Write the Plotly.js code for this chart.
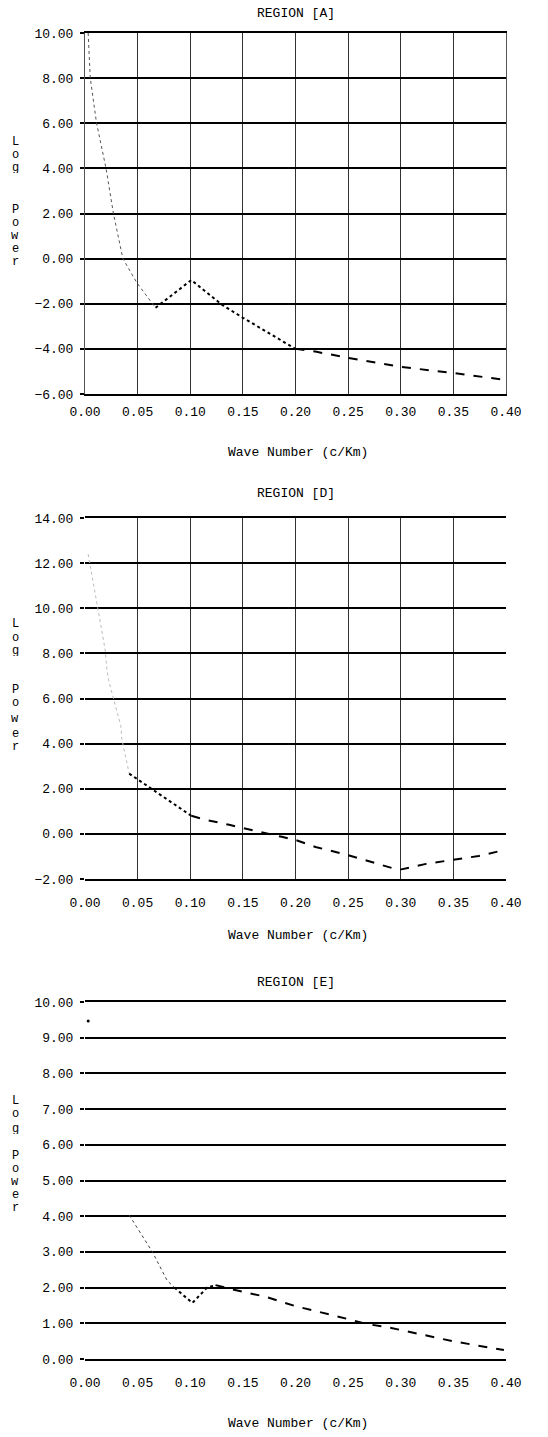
<!DOCTYPE html>
<html>
<head>
<meta charset="utf-8">
<script src="https://cdn.plot.ly/plotly-3.0.1.min.js"></script>
<style>html,body{margin:0;padding:0;background:#fff;}#chart{width:548px;height:1437px;}</style>
</head>
<body>
<div id="chart"></div>
<script>
// ---------- DATA ----------
const panelTitles = ["REGION [A]", "REGION [D]", "REGION [E]"];
const xAxisTitle = "Wave Number (c/Km)";
const yLabelLetters = ["L", "o", "g", "P", "o", "w", "e", "r"];
const xTickVals = [0.00, 0.05, 0.10, 0.15, 0.20, 0.25, 0.30, 0.35, 0.40];

// Region A
const aFaintX = [0.003, 0.005, 0.011, 0.020, 0.027, 0.036, 0.049, 0.064, 0.067];
const aFaintY = [10.0, 8.0, 6.0, 4.0, 2.0, 0.0, -1.05, -1.96, -2.18];
const aDotX = [0.067, 0.101, 0.130, 0.150, 0.200];
const aDotY = [-2.18, -0.95, -2.04, -2.62, -4.0];
const aDashX = [0.200, 0.220, 0.250, 0.300, 0.350, 0.400];
const aDashY = [-4.0, -4.13, -4.4, -4.8, -5.07, -5.38];

// Region D
const dFaintX = [0.003, 0.019, 0.021, 0.023, 0.034, 0.035, 0.042];
const dFaintY = [12.4, 8.2, 7.2, 6.7, 4.8, 4.2, 2.67];
const dDotX = [0.042, 0.063, 0.101];
const dDotY = [2.67, 2.0, 0.8];
const dDashX = [0.101, 0.115, 0.137, 0.159, 0.172, 0.187, 0.200, 0.219, 0.249, 0.277, 0.298, 0.324, 0.349, 0.374, 0.398];
const dDashY = [0.8, 0.62, 0.4, 0.18, 0.05, -0.13, -0.27, -0.58, -0.93, -1.33, -1.6, -1.33, -1.16, -0.98, -0.72];

// Region E
const eFaintX = [0.003];
const eFaintY = [9.47];
const eLightX = [0.042, 0.064, 0.078, 0.085];
const eLightY = [4.03, 3.0, 2.2, 2.0];
const eDotX = [0.085, 0.102, 0.116, 0.124];
const eDotY = [2.0, 1.57, 2.0, 2.07];
const eDashX = [0.124, 0.140, 0.172, 0.200, 0.235, 0.268, 0.291, 0.315, 0.349, 0.398];
const eDashY = [2.07, 1.95, 1.74, 1.48, 1.23, 0.98, 0.87, 0.72, 0.5, 0.25];

// ---------- LAYOUT HELPERS ----------
const W = 548, H = 1437;
const FONT = "Liberation Mono, DejaVu Sans Mono, monospace";
const py = p => 1 - p / H;   // pixel row -> paper fraction
const px = p => p / W;

const panels = [
  {top: 33,  bottom: 394,  range: [-6, 10], dtick: 2, titleY: 14,  axTitleY: 452, xStand: -2,
   letters: [142, 155, 168, 210, 223, 236, 249, 262], xgrid: true, yline: true},
  {top: 518, bottom: 879,  range: [-2, 14], dtick: 2, titleY: 493, axTitleY: 935, xStand: 4,
   letters: [623, 638, 651, 690, 703, 718, 733, 746], xgrid: true, yline: false},
  {top: 1002, bottom: 1359, range: [0, 10], dtick: 1, titleY: 982, axTitleY: 1423, xStand: 4,
   letters: [1100, 1113, 1128, 1155, 1168, 1181, 1194, 1207], xgrid: false, yline: false}
];

function seg(x, y, ax, color, width, dash, mode) {
  return {x: x, y: y, xaxis: ax[0], yaxis: ax[1], type: "scatter",
          mode: mode || "lines", line: {color: color, width: width, dash: dash},
          marker: {color: color, size: 3}, showlegend: false, hoverinfo: "skip"};
}

const traces = [
  seg(aFaintX, aFaintY, ["x", "y"], "#555", 1, "dot"),
  seg(aDotX, aDotY, ["x", "y"], "#000", 2, "dot"),
  seg(aDashX, aDashY, ["x", "y"], "#000", 2, "dash"),
  seg(dFaintX, dFaintY, ["x2", "y2"], "#bbb", 1, "dot"),
  seg(dDotX, dDotY, ["x2", "y2"], "#000", 2, "dot"),
  seg(dDashX, dDashY, ["x2", "y2"], "#000", 2, "dash"),
  seg(eFaintX, eFaintY, ["x3", "y3"], "#000", 1, "solid", "markers"),
  seg(eLightX, eLightY, ["x3", "y3"], "#444", 1, "dot"),
  seg(eDotX, eDotY, ["x3", "y3"], "#000", 2, "dot"),
  seg(eDashX, eDashY, ["x3", "y3"], "#000", 2, "dash")
];

const layout = {
  width: W, height: H, autosize: false,
  margin: {l: 0, r: 0, t: 0, b: 0, pad: 0},
  paper_bgcolor: "#fff", plot_bgcolor: "#fff",
  font: {family: FONT, size: 13, color: "#000"},
  showlegend: false,
  annotations: [],
  hovermode: false
};

panels.forEach((p, i) => {
  const sfx = i === 0 ? "" : String(i + 1);
  layout["xaxis" + sfx] = {
    domain: [px(85), px(506)], anchor: "y" + sfx, range: [0, 0.4],
    tickvals: xTickVals, tickformat: ".2f",
    showgrid: p.xgrid, gridcolor: "#333", gridwidth: 1,
    zeroline: false, showline: true, mirror: true, linecolor: "#000", linewidth: 2,
    ticks: "outside", ticklen: 6, tickcolor: "rgba(0,0,0,0)",
    ticklabelstandoff: p.xStand,
    tickfont: {family: FONT, size: 13, color: "#000"}, automargin: false, fixedrange: true
  };
  layout["yaxis" + sfx] = {
    domain: [py(p.bottom), py(p.top)], anchor: "x" + sfx, range: p.range,
    dtick: p.dtick, tick0: 0, tickformat: ".2f",
    showgrid: true, gridcolor: "#000", gridwidth: 2,
    zeroline: false, showline: p.yline, mirror: p.yline, linecolor: "#555", linewidth: 1,
    ticks: "outside", ticklen: 4, tickwidth: 2, tickcolor: "#000",
    ticklabelstandoff: 4,
    tickfont: {family: FONT, size: 13, color: "#000"}, automargin: false, fixedrange: true
  };
  layout.annotations.push({
    text: panelTitles[i], xref: "paper", yref: "paper", x: px(295.5), y: py(p.titleY),
    xanchor: "center", yanchor: "middle", showarrow: false,
    font: {family: FONT, size: 13, color: "#000"}
  });
  layout.annotations.push({
    text: xAxisTitle, xref: "paper", yref: "paper", x: px(298), y: py(p.axTitleY),
    xanchor: "center", yanchor: "middle", showarrow: false,
    font: {family: FONT, size: 13, color: "#000"}
  });
  yLabelLetters.forEach((ch, k) => {
    layout.annotations.push({
      text: ch, xref: "paper", yref: "paper", x: px(15), y: py(p.letters[k]),
      xanchor: "center", yanchor: "middle", showarrow: false,
      height: 11, borderpad: 0,
      font: {family: FONT, size: 12, color: "#000"}
    });
  });
});

Plotly.newPlot("chart", traces, layout, {staticPlot: true, displayModeBar: false});
</script>
</body>
</html>
